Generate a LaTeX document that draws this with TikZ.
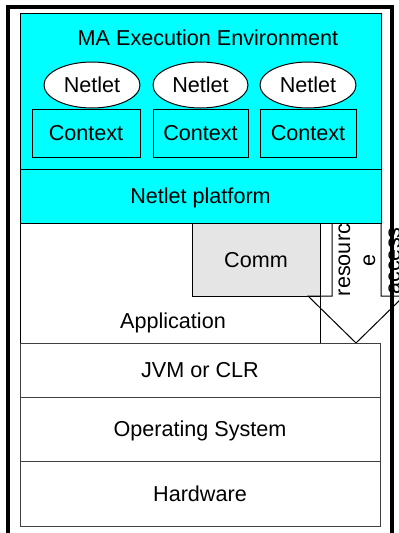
\documentclass[tikz,border=0pt]{standalone}
\usepackage{fontspec}
\setmainfont{Liberation Sans}
\usetikzlibrary{shapes.geometric}
\definecolor{envcyan}{HTML}{00FFFF}
\definecolor{commgray}{HTML}{E5E5E5}

\begin{document}
\begin{tikzpicture}[x=1pt,y=-1pt,
  every node/.style={font=\fontsize{21.6}{25}\selectfont, inner sep=0pt, outer sep=0pt},
  box/.style={draw=black, line width=1pt, rectangle, text height=15pt, text depth=0pt},
  layer/.style={box, draw=black!75, fill=white, minimum width=360pt},
  ctx/.style={box, fill=envcyan, minimum height=48pt},
  netlet/.style={draw=black, line width=1pt, ellipse, fill=white,
    minimum width=96pt, minimum height=46pt, text height=15pt, text depth=0pt},
  lbl/.style={anchor=base},
  vlbl/.style={anchor=base, rotate=90},
]
\useasboundingbox (0,0) rectangle (399,533);
\clip (0,0) rectangle (399,533);

% application area with the communication module
\node[box, fill=white, minimum width=300pt, minimum height=120pt] (app) at (170,283) {};
\node[box, fill=commgray, minimum width=128pt, minimum height=73pt] (comm) at (256,259.5) {Comm};
\node[lbl] (applbl) at (173,328) {Application};

% block arrow for resource access
\draw[line width=1pt] (332,200) -- (332,296) -- (308,296) -- (356,343)
  -- (404,296) -- (381,296) -- (381,200);
\node[vlbl] (rs1) at (350,260) {resourc};
\node[vlbl] (rs2) at (375,260) {e};
\node[vlbl] (rs3) at (400,261) {access};

% execution environment
\node[box, fill=envcyan, minimum width=361pt, minimum height=156pt] (env) at (200.5,91) {};
\node[box, fill=envcyan, minimum width=361pt, minimum height=54pt] (plat) at (200.5,196) {Netlet platform};
\node[lbl] (malbl) at (208,45) {MA Execution Environment};

\node[ctx, minimum width=108pt] (ctx1) at (86,133) {Context};
\node[ctx, minimum width=95pt] (ctx2) at (200.5,133) {Context};
\node[ctx, minimum width=96pt] (ctx3) at (308,133) {Context};

\node[netlet] (n1) at (92,85) {Netlet};
\node[netlet, minimum width=95pt] (n2) at (200.5,85) {Netlet};
\node[netlet] (n3) at (308,85) {Netlet};

% lower layers
\node[layer, minimum height=54pt] (jvm) at (200,370) {JVM or CLR};
\node[layer, minimum height=64pt] (os) at (200,429) {Operating System};
\node[layer, minimum height=65pt] (hw) at (200,493.5) {Hardware};

% outer frame
\draw[line width=4pt] (8,540) -- (8,7) -- (392,7) -- (392,540);
\end{tikzpicture}
\end{document}
